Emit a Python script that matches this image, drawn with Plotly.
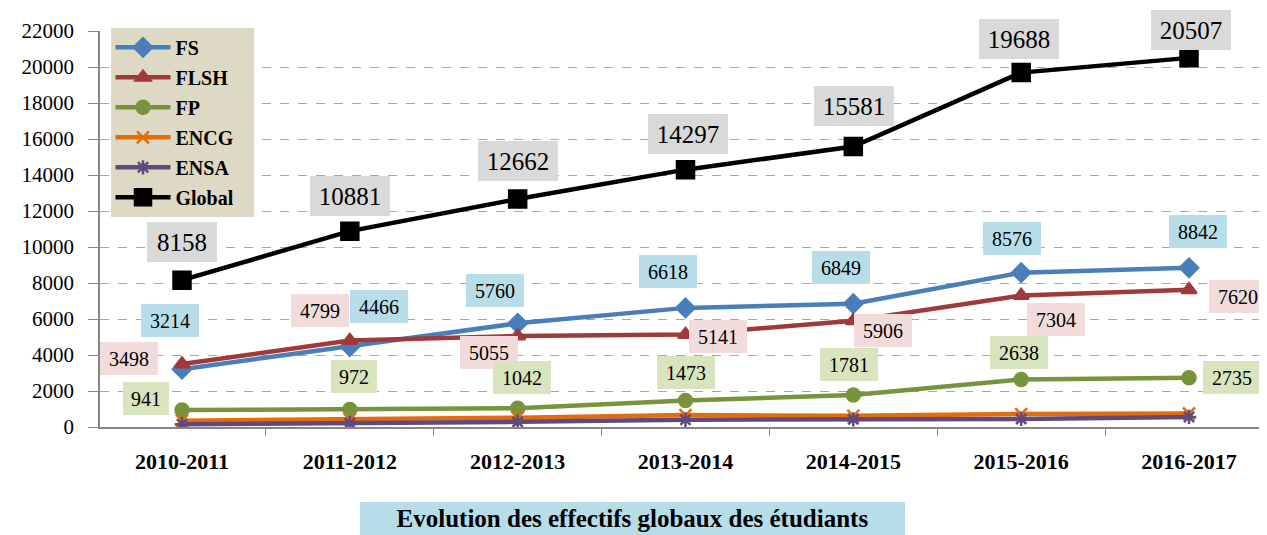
import plotly.graph_objects as go

years = ["2010-2011", "2011-2012", "2012-2013", "2013-2014", "2014-2015", "2015-2016", "2016-2017"]
fs = [3214, 4466, 5760, 6618, 6849, 8576, 8842]
flsh = [3498, 4799, 5055, 5141, 5906, 7304, 7620]
fp = [941, 972, 1042, 1473, 1781, 2638, 2735]
encg = [350, 430, 520, 660, 620, 720, 750]
ensa = [155, 214, 285, 405, 425, 450, 560]
glob = [8158, 10881, 12662, 14297, 15581, 19688, 20507]
title_text = "Evolution des effectifs globaux des étudiants"

FONT = "'Liberation Serif', 'DejaVu Serif', serif"

series = [
    ("FS", fs, "#4a7ebb", "diamond", 14),
    ("FLSH", flsh, "#a0393a", "triangle-up", 13),
    ("FP", fp, "#77933c", "circle", 13),
    ("ENCG", encg, "#e46c0a", "x-thin-open", 12),
    ("ENSA", ensa, "#604a7b", "asterisk-open", 12),
    ("Global", glob, "#000000", "square", 17),
]

fig = go.Figure()
for name, vals, col, sym, sz in series:
    fig.add_trace(go.Scatter(
        x=years, y=vals, name="<b>" + name + "</b>" + "\u00a0" * 3, mode="lines+markers",
        legendgroup=name,
        line=dict(color=col, width=4.5),
        marker=dict(symbol=sym, size=sz, color=col, line=dict(color=col, width=2.5)),
    ))

# label offsets (pixels) per series
glob_off = [(0, 38), (0, 35), (0, 38), (2, 36), (1, 41), (-2, 34), (2, 28)]
fs_off = [(-12, 49), (29, 40), (-23, 33), (-18, 36), (-12, 36), (-9, 34), (9, 36)]
flsh_off = [(-53, 6), (-30, 30), (-29, -16), (32, -2), (30, -10), (35, -24), (49, -7)]
fp_off = [(-36, 12), (4, 33), (4, 31), (0, 28), (-4, 30), (-2, 27), (43, 0)]

def add_labels(vals, offs, bg, size, big=False):
    for x, v, (dx, dy) in zip(years, vals, offs):
        n = len(str(v))
        if big:
            w, h = 10 * n + 30, 40
        else:
            w, h = 12 * n + 10, 33
        fig.add_annotation(x=x, y=v, xref="x", yref="y", text=str(v), showarrow=False,
                           xshift=dx, yshift=dy, bgcolor=bg, borderpad=0, borderwidth=0,
                           width=w, height=h, align="center", valign="middle",
                           font=dict(family=FONT, size=size, color="black"))

add_labels(glob, glob_off, "#d9d9d9", 25, big=True)
add_labels(fs, fs_off, "#b7dde8", 20)
add_labels(flsh, flsh_off, "#f2dcdb", 20)
add_labels(fp, fp_off, "#d7e4bd", 20)

fig.add_annotation(x=0.456, y=-0.231, xref="paper", yref="paper", showarrow=False,
                   text="<b>" + title_text + "</b>",
                   bgcolor="#b7dde8", borderpad=0, borderwidth=0, width=545, height=33,
                   yanchor="middle", valign="middle",
                   font=dict(family=FONT, size=25, color="black"))

fig.update_layout(
    width=1259, height=527,
    margin=dict(l=92, r=0, t=23, b=108),
    plot_bgcolor="white", paper_bgcolor="white",
    font=dict(family=FONT, color="black"),
    showlegend=True,
    legend=dict(x=0.009, y=1.008, xanchor="left", yanchor="top",
                bgcolor="#ddd9c4", font=dict(family=FONT, size=20, color="black"),
                tracegroupgap=1, itemwidth=55),
    xaxis=dict(showgrid=False, showline=True, linecolor="#868686", linewidth=1.5,
               ticks="outside", tickson="boundaries", ticklen=7, tickcolor="#868686",
               ticklabelstandoff=14,
               tickfont=dict(family=FONT, size=22, color="black"),
               tickprefix="<b>", ticksuffix="</b>"),
    yaxis=dict(range=[0, 22000], dtick=2000, tickformat="d", showgrid=True,
               gridcolor="#a6a6a6", griddash="dash", gridwidth=1.2, zeroline=False,
               showline=True, linecolor="#868686", linewidth=1.5,
               ticks="outside", ticklen=10, tickcolor="#868686",
               ticklabelstandoff=10,
               tickfont=dict(family=FONT, size=21, color="black")),
)

fig.write_html("out.html")
